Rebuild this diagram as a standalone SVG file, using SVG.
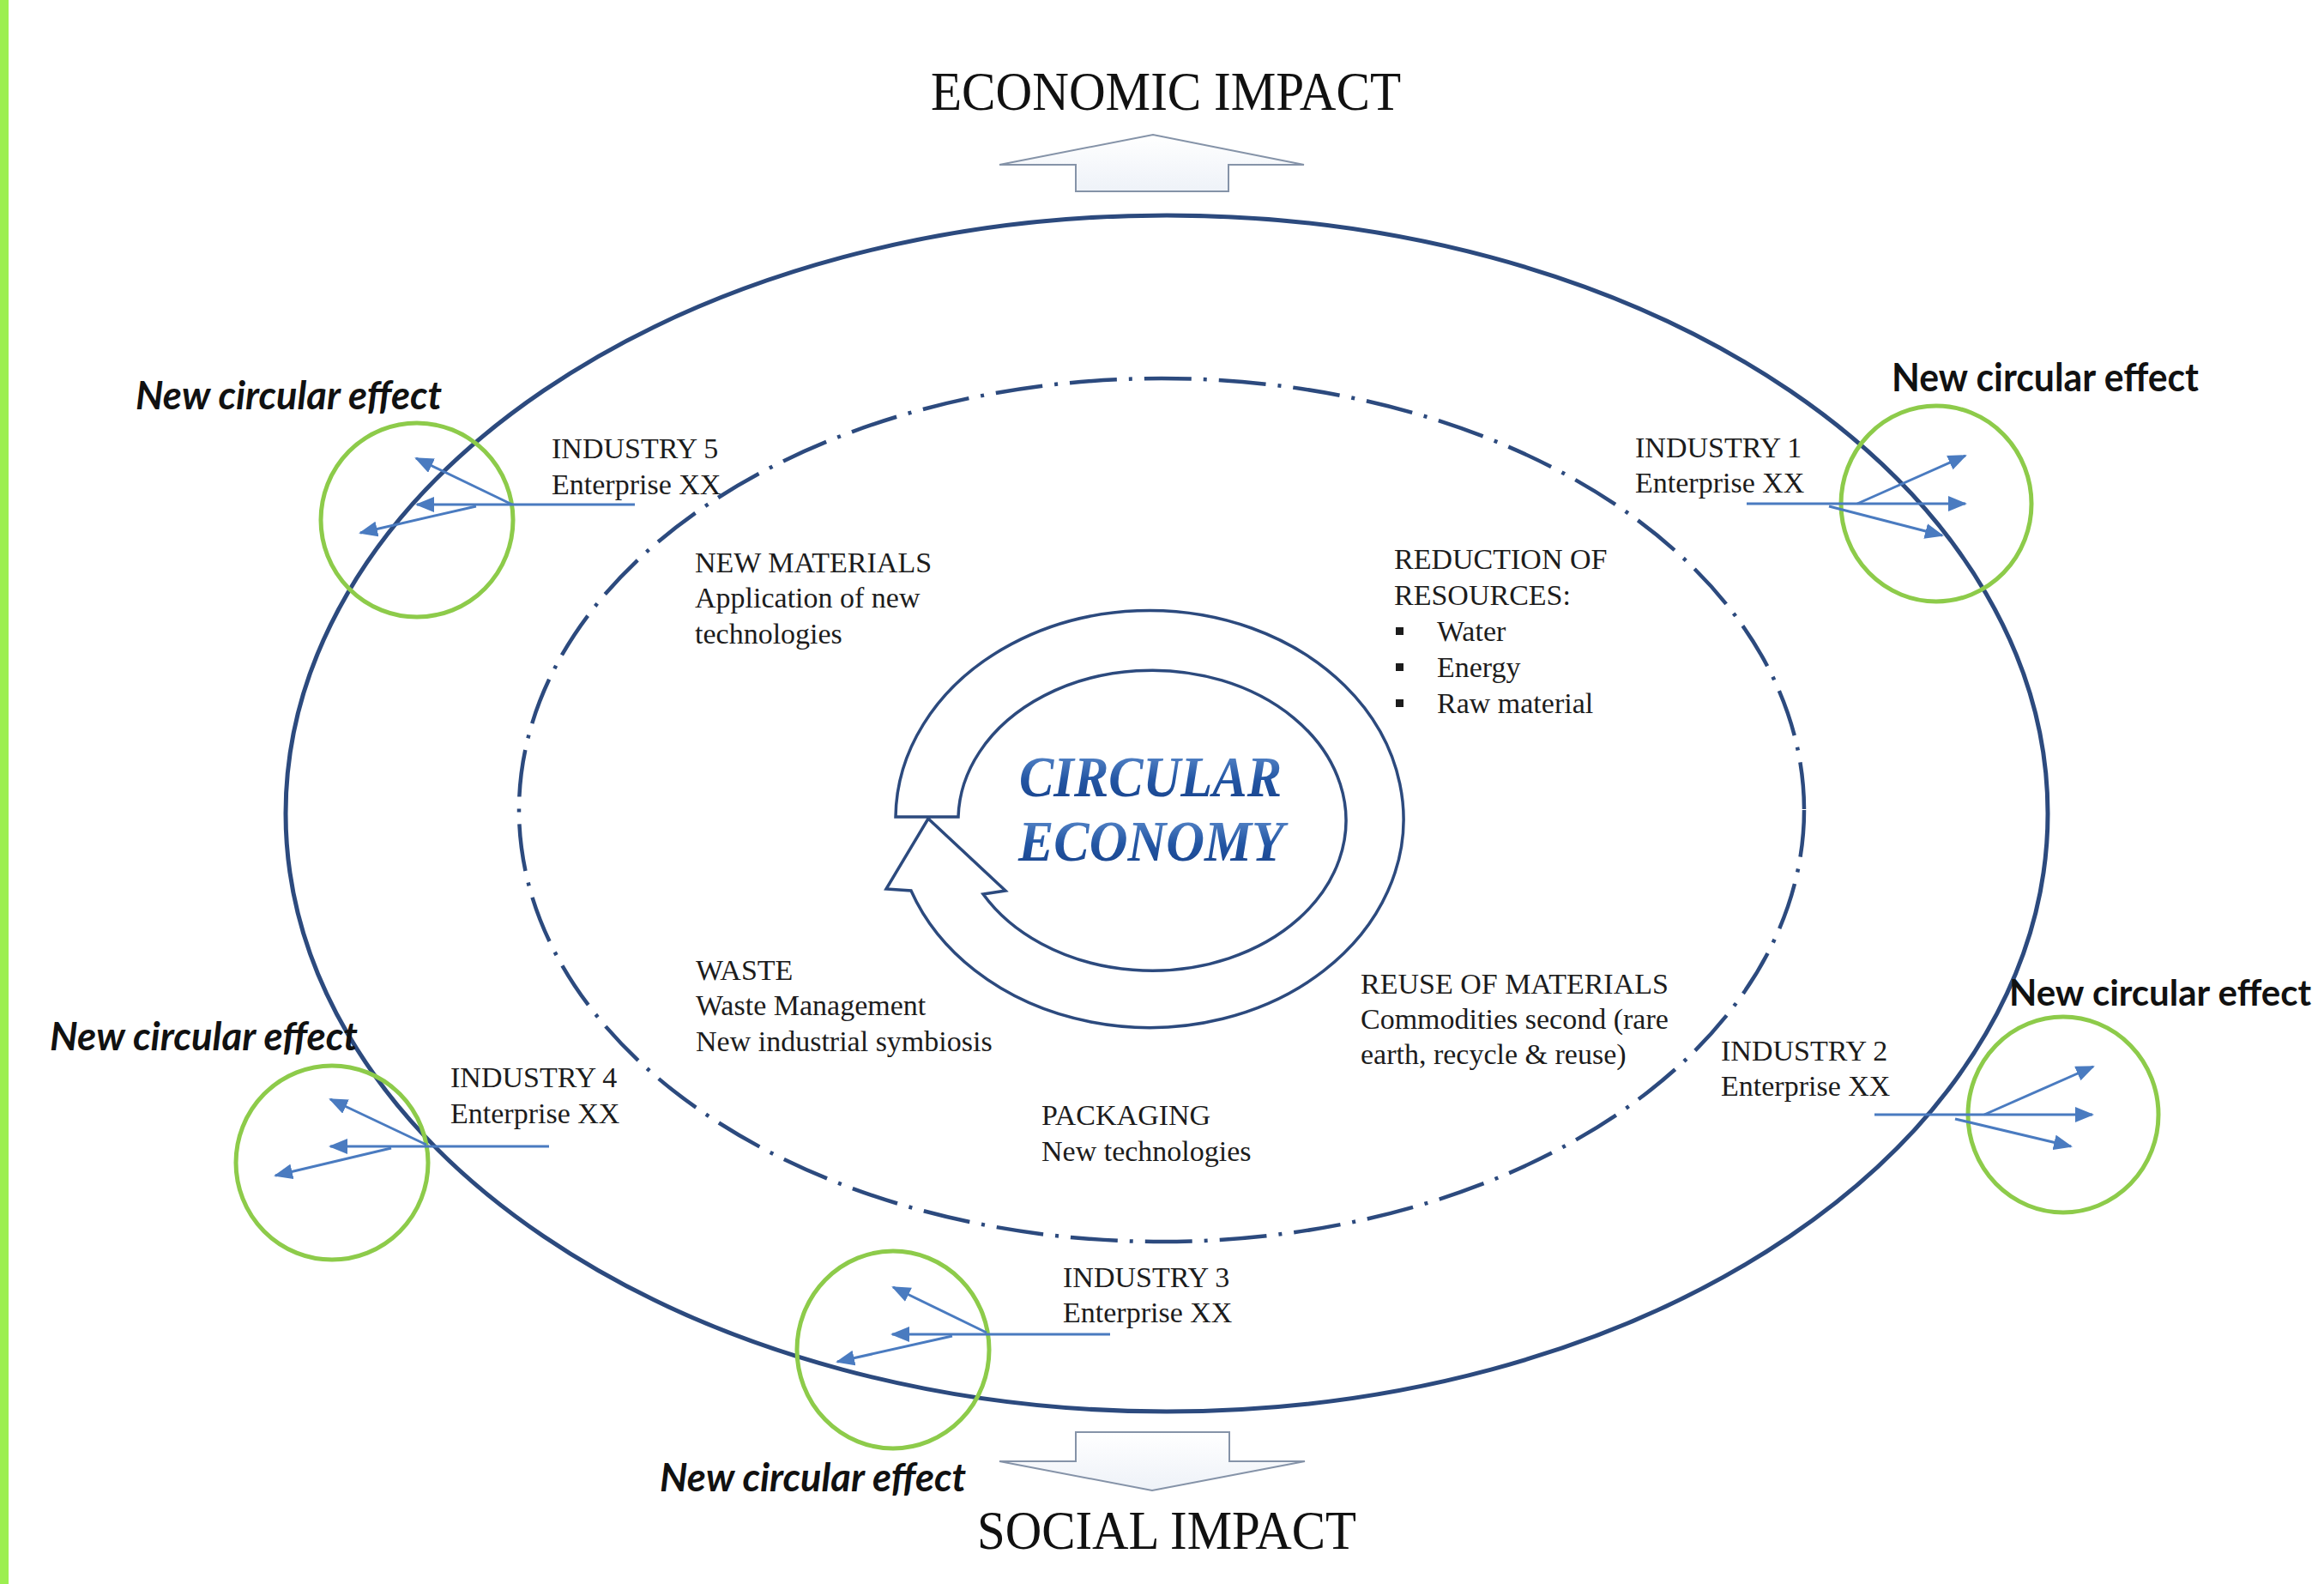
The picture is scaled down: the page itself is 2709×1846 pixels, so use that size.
<svg xmlns="http://www.w3.org/2000/svg" width="2709" height="1846" viewBox="0 0 2709 1846">
<defs>
<style>
.body{font-family:"Liberation Serif","Times New Roman",serif;font-size:34px;fill:#1c1c1c}
.title{font-family:"Liberation Serif","Times New Roman",serif;font-size:64px;fill:#111}
.nce{font-family:Lato,"Liberation Sans",sans-serif;font-size:46px;font-weight:bold;fill:#111}
.it{font-style:italic}
.green{fill:none;stroke:#8DCB4A;stroke-width:5}
.arr{stroke:#4A7BC0;stroke-width:3;fill:none;marker-end:url(#ah)}
.navy{fill:none;stroke:#2C4A7E}
.block{fill:url(#blk);stroke:#8593A8;stroke-width:2}
.ce{font-family:"Liberation Serif","Times New Roman",serif;font-size:68px;font-weight:bold;font-style:italic;fill:url(#ceg)}
</style>
<marker id="ah" markerUnits="userSpaceOnUse" markerWidth="22" markerHeight="18" refX="20" refY="9" orient="auto">
<path d="M0,0 L22,9 L0,18 Z" fill="#4A7BC0"/>
</marker>
<linearGradient id="ceg" x1="0" y1="0" x2="0" y2="1">
<stop offset="0" stop-color="#6A98D6"/>
<stop offset="0.55" stop-color="#2255A3"/>
<stop offset="1" stop-color="#173F86"/>
</linearGradient>
<linearGradient id="blk" x1="0" y1="0" x2="0" y2="1">
<stop offset="0" stop-color="#FFFFFF"/>
<stop offset="1" stop-color="#EEF2F8"/>
</linearGradient>
</defs>

<g id="background">
<rect x="0" y="0" width="2709" height="1846" fill="#FFFFFF"/>
<rect x="0" y="0" width="10" height="1846" fill="#9CEF50"/>
</g>

<g id="outer-system">
<ellipse cx="1360" cy="948" rx="1027" ry="697" class="navy" stroke-width="5"/>
</g>

<g id="inner-ring">
<ellipse cx="1354" cy="944" rx="749" ry="503" class="navy" stroke-width="4.5" stroke-dasharray="55 14 4 14"/>
</g>

<g id="economic-impact">
<path class="block" d="M1254 223 L1254 192 L1165 192 L1344 157 L1520 192 L1432 192 L1432 223 Z"/>
<text class="title" x="1085" y="128" textLength="548" lengthAdjust="spacingAndGlyphs">ECONOMIC IMPACT</text>
</g>

<g id="social-impact">
<path class="block" d="M1254 1669 L1433 1669 L1433 1703 L1521 1703 L1343 1737 L1165 1703 L1254 1703 Z"/>
<text class="title" x="1139" y="1805" textLength="442" lengthAdjust="spacingAndGlyphs">SOCIAL IMPACT</text>
</g>

<g id="circular-economy">
<path d="M1044 952 A296 243 0 1 1 1062 1038 L1033 1036 L1082 954 L1172 1038 L1146 1042 A226 175 0 1 0 1117 952 Z" fill="#FFFFFF" stroke="#2C4A7E" stroke-width="3.5" stroke-linejoin="miter"/>
<text class="ce" x="1188" y="928" textLength="306" lengthAdjust="spacingAndGlyphs">CIRCULAR</text>
<text class="ce" x="1187" y="1003" textLength="310" lengthAdjust="spacingAndGlyphs">ECONOMY</text>
</g>

<g id="topic-new-materials">
<text class="body" x="810" y="667">NEW MATERIALS</text>
<text class="body" x="810" y="708">Application of new</text>
<text class="body" x="810" y="750">technologies</text>
</g>

<g id="topic-reduction">
<text class="body" x="1625" y="663">REDUCTION OF</text>
<text class="body" x="1625" y="705">RESOURCES:</text>
<rect x="1627" y="731" width="9" height="9" fill="#1c1c1c"/>
<text class="body" x="1675" y="747">Water</text>
<rect x="1627" y="773" width="9" height="9" fill="#1c1c1c"/>
<text class="body" x="1675" y="789">Energy</text>
<rect x="1627" y="815" width="9" height="9" fill="#1c1c1c"/>
<text class="body" x="1675" y="831">Raw material</text>
</g>

<g id="topic-waste">
<text class="body" x="811" y="1142">WASTE</text>
<text class="body" x="811" y="1183">Waste Management</text>
<text class="body" x="811" y="1225">New industrial symbiosis</text>
</g>

<g id="topic-reuse">
<text class="body" x="1586" y="1158">REUSE OF MATERIALS</text>
<text class="body" x="1586" y="1199">Commodities second (rare</text>
<text class="body" x="1586" y="1240">earth, recycle &amp; reuse)</text>
</g>

<g id="topic-packaging">
<text class="body" x="1214" y="1311">PACKAGING</text>
<text class="body" x="1214" y="1353">New technologies</text>
</g>

<g id="industry-1">
<text class="body" x="1906" y="533">INDUSTRY 1</text>
<text class="body" x="1906" y="574">Enterprise XX</text>
</g>
<g id="industry-2">
<text class="body" x="2006" y="1236">INDUSTRY 2</text>
<text class="body" x="2006" y="1277">Enterprise XX</text>
</g>
<g id="industry-3">
<text class="body" x="1239" y="1500">INDUSTRY 3</text>
<text class="body" x="1239" y="1541">Enterprise XX</text>
</g>
<g id="industry-4">
<text class="body" x="525" y="1267">INDUSTRY 4</text>
<text class="body" x="525" y="1309">Enterprise XX</text>
</g>
<g id="industry-5">
<text class="body" x="643" y="534">INDUSTRY 5</text>
<text class="body" x="643" y="576">Enterprise XX</text>
</g>

<g id="effect-1">
<ellipse class="green" cx="2257" cy="587" rx="111" ry="114"/>
<text class="nce" x="2205" y="456" textLength="358" lengthAdjust="spacingAndGlyphs">New circular effect</text>
</g>
<g id="effect-2">
<ellipse class="green" cx="2405" cy="1299" rx="111" ry="114"/>
<text class="nce" x="2342" y="1172" style="font-size:42px">New circular effect</text>
</g>
<g id="effect-3">
<ellipse class="green" cx="1041" cy="1573" rx="112" ry="115"/>
<text class="nce it" x="769" y="1738" textLength="357" lengthAdjust="spacingAndGlyphs">New circular effect</text>
</g>
<g id="effect-4">
<ellipse class="green" cx="387" cy="1355" rx="112" ry="113"/>
<text class="nce it" x="58" y="1224" textLength="359" lengthAdjust="spacingAndGlyphs">New circular effect</text>
</g>
<g id="effect-5">
<ellipse class="green" cx="486" cy="606" rx="112" ry="113"/>
<text class="nce it" x="158" y="477" textLength="357" lengthAdjust="spacingAndGlyphs">New circular effect</text>
</g>

<g id="connectors">
<line class="arr" x1="2036" y1="587" x2="2291" y2="587"/>
<line class="arr" x1="2165" y1="587" x2="2291" y2="531"/>
<line class="arr" x1="2132" y1="590" x2="2264" y2="624"/>

<line class="arr" x1="2185" y1="1299" x2="2439" y2="1299"/>
<line class="arr" x1="2313" y1="1299" x2="2440" y2="1243"/>
<line class="arr" x1="2279" y1="1304" x2="2414" y2="1336"/>

<line class="arr" x1="1294" y1="1555" x2="1040" y2="1555"/>
<line class="arr" x1="1150" y1="1553" x2="1041" y2="1500"/>
<line class="arr" x1="1110" y1="1557" x2="976" y2="1587"/>

<line class="arr" x1="640" y1="1336" x2="385" y2="1336"/>
<line class="arr" x1="497" y1="1334" x2="385" y2="1281"/>
<line class="arr" x1="456" y1="1338" x2="321" y2="1370"/>

<line class="arr" x1="740" y1="588" x2="486" y2="588"/>
<line class="arr" x1="597" y1="588" x2="485" y2="534"/>
<line class="arr" x1="555" y1="590" x2="420" y2="621"/>
</g>
</svg>
